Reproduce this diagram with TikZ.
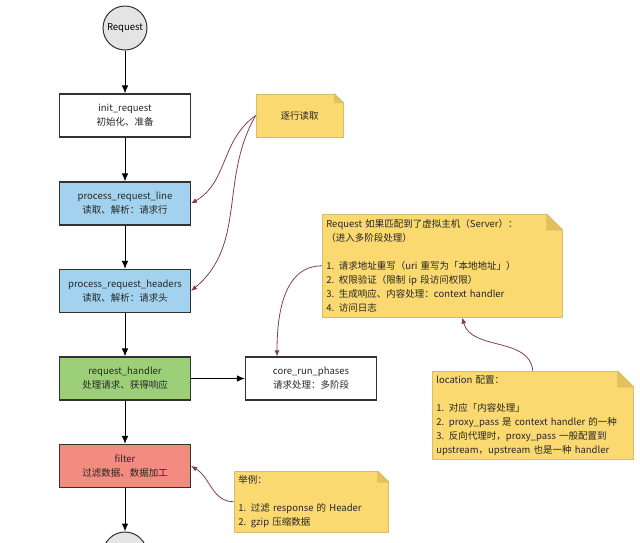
\documentclass[tikz,border=0pt]{standalone}
\usepackage{fontspec}
\setmainfont{Noto Sans CJK SC}
\usetikzlibrary{arrows.meta}

\definecolor{boxedge}{RGB}{50,50,50}
\definecolor{startfill}{RGB}{228,228,228}
\definecolor{readfill}{RGB}{163,210,238}
\definecolor{handlefill}{RGB}{156,208,120}
\definecolor{filterfill}{RGB}{242,140,128}
\definecolor{memofill}{RGB}{250,217,112}
\definecolor{memoedge}{RGB}{214,190,112}
\definecolor{foldfill}{RGB}{226,192,92}
\definecolor{linkcol}{RGB}{130,60,90}

\tikzset{
  stage/.style={draw=boxedge, line width=1.1pt, minimum width=131pt, minimum height=43pt,
    align=center, font=\fontsize{9.5}{14}\selectfont, text=black!85},
  endpoint/.style={circle, draw=boxedge, fill=startfill, line width=1pt, minimum size=44pt,
    inner sep=0pt, font=\fontsize{9.5}{12}\selectfont},
  flow/.style={-{Latex[length=8pt,width=6.5pt]}, line width=1pt, black},
  memo/.style={fill=memofill, draw=memoedge, line width=0.6pt, inner sep=4pt,
    font=\fontsize{9.5}{14}\selectfont, text=black!85},
  link/.style={-{Latex[length=6pt,width=5pt]}, draw=linkcol, line width=0.8pt},
}

\begin{document}
\begin{tikzpicture}[x=1pt, y=-1pt]
  \useasboundingbox (0,0) rectangle (640,542);

  % Main flow
  \node[endpoint] (req) at (125,28) {Request};
  \node[stage, fill=white] (init) at (125,115.5) {init\_request\\初始化、准备};
  \node[stage, fill=readfill] (line) at (125,203.5) {process\_request\_line\\读取、解析：请求行};
  \node[stage, fill=readfill] (headers) at (125,291) {process\_request\_headers\\读取、解析：请求头};
  \node[stage, fill=handlefill] (handler) at (125,378.5) {request\_handler\\处理请求、获得响应};
  \node[stage, fill=white] (core) at (311,378.5) {core\_run\_phases\\请求处理：多阶段};
  \node[stage, fill=filterfill] (filter) at (125,466) {filter\\过滤数据、数据加工};
  \node[endpoint] (resp) at (125,554) {};

  \draw[flow] (req) -- (init);
  \draw[flow] (init) -- (line);
  \draw[flow] (line) -- (headers);
  \draw[flow] (headers) -- (handler);
  \draw[flow] (handler) -- (core);
  \draw[flow] (handler) -- (filter);
  \draw[flow] (filter) -- (resp);

  % Notes
  \node[memo, minimum width=87pt, minimum height=43pt] (rowmemo) at (299.5,115.5) {逐行读取};
  \node[memo, anchor=north west, text width=232pt, minimum height=103pt, align=left] (vhostmemo) at (322,214)
    {Request 如果匹配到了虚拟主机（Server）：\\（进入多阶段处理）\\[14pt]
     1. 请求地址重写（uri 重写为「本地地址」）\\2. 权限验证（限制 ip 段访问权限）\\
     3. 生成响应、内容处理：context handler\\4. 访问日志};
  \node[memo, anchor=north west, text width=193pt, minimum height=88pt, align=left] (locmemo) at (432,371)
    {location 配置：\\[14pt]1. 对应「内容处理」\\2. proxy\_pass 是 context handler 的一种\\
     3. 反向代理时，proxy\_pass 一般配置到\\upstream，upstream 也是一种 handler};
  \node[memo, anchor=north west, text width=146pt, minimum height=61pt, align=left] (egmemo) at (234,471)
    {举例：\\[14pt]1. 过滤 response 的 Header\\2. gzip 压缩数据};

  % Folded corners
  \foreach \n/\f in {rowmemo/9, vhostmemo/16, locmemo/16, egmemo/11} {
    \fill[white] (\n.north east) ++(-\f,-1) -- ++(\f+1,0) -- ++(0,\f+1) -- cycle;
    \filldraw[fill=foldfill, draw=memoedge, line width=0.6pt]
      (\n.north east) ++(-\f,0) -- ++(0,\f) -- ++(\f,0) -- cycle;
  }

  % Note links
  \draw[link] (rowmemo.west) to[out=215, in=30] (line.east);
  \draw[link] (rowmemo.west) to[out=240, in=40] (headers.east);
  \draw[link] (vhostmemo.west) to[out=180, in=90] ([xshift=-34pt]core.north);
  \draw[link] (locmemo.north) to[out=95, in=-75] ([xshift=20pt]vhostmemo.south);
  \draw[link] (egmemo.west) to[out=180, in=-30] (filter.east);
\end{tikzpicture}
\end{document}
